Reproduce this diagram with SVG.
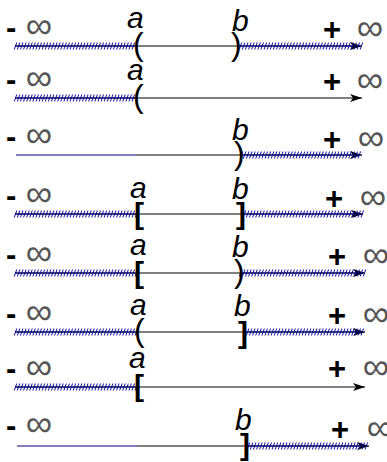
<svg xmlns="http://www.w3.org/2000/svg" width="387" height="462" viewBox="0 0 387 462">
<defs>
<marker id="arr" markerUnits="userSpaceOnUse" markerWidth="14" markerHeight="10" refX="12" refY="4" orient="auto">
<path d="M0,0 L12,4 L0,8 L3,4 z" fill="#000"/>
</marker>
<style>
.bg{fill:#fff}
.ax{stroke:#000;stroke-width:1.1;fill:none}
.bl{stroke:#000080;stroke-width:1.2;fill:none}
.h{stroke:#10109a;stroke-width:7;stroke-dasharray:1 2.1;fill:none}
.hl{stroke:#000080;stroke-width:1;fill:none}
.sg{font-family:"Liberation Sans",Arial,sans-serif;font-weight:bold;font-size:31px;fill:#000}
.inf{font-family:"DejaVu Sans",sans-serif;font-weight:200;font-size:37px;fill:#555}
.lab{font-family:"Liberation Sans",Arial,sans-serif;font-style:italic;font-size:30px;fill:#000}
.br{font-family:"Liberation Sans",Arial,sans-serif;font-size:32px;fill:#000}
.bb{font-family:"Liberation Sans",Arial,sans-serif;font-weight:bold;font-size:30px;fill:#000}
</style>
</defs>
<rect class="bg" x="0" y="0" width="387" height="462"/>
<g id="connectors">
<line class="ax" x1="15" y1="46" x2="362" y2="46" marker-end="url(#arr)"/>
<line class="ax" x1="15" y1="98" x2="362" y2="98" marker-end="url(#arr)"/>
<line class="bl" x1="16" y1="155" x2="136" y2="155"/>
<line class="ax" x1="136" y1="155" x2="362" y2="155" marker-end="url(#arr)"/>
<line class="ax" x1="15" y1="214" x2="363" y2="214" marker-end="url(#arr)"/>
<line class="ax" x1="15" y1="273" x2="365" y2="273" marker-end="url(#arr)"/>
<line class="ax" x1="15" y1="332" x2="365" y2="332" marker-end="url(#arr)"/>
<line class="ax" x1="15" y1="387" x2="365" y2="387" marker-end="url(#arr)"/>
<line class="bl" x1="17" y1="446" x2="138" y2="446"/>
<line class="ax" x1="138" y1="446" x2="369" y2="446" marker-end="url(#arr)"/>
</g>
<g id="hatches">
<g transform="translate(0,46) skewX(-20)"><line class="h" x1="15" y1="0" x2="135" y2="0"/><line class="h" x1="240" y1="0" x2="362" y2="0"/></g>
<line class="hl" x1="15" y1="46" x2="135" y2="46"/><line class="hl" x1="240" y1="46" x2="360" y2="46"/>
<g transform="translate(0,98) skewX(-20)"><line class="h" x1="15" y1="0" x2="135" y2="0"/></g>
<line class="hl" x1="15" y1="98" x2="135" y2="98"/>
<g transform="translate(0,155) skewX(-20)"><line class="h" x1="241" y1="0" x2="362" y2="0"/></g>
<line class="hl" x1="241" y1="155" x2="360" y2="155"/>
<g transform="translate(0,214) skewX(-20)"><line class="h" x1="15" y1="0" x2="137" y2="0"/><line class="h" x1="244" y1="0" x2="363" y2="0"/></g>
<line class="hl" x1="15" y1="214" x2="137" y2="214"/><line class="hl" x1="244" y1="214" x2="361" y2="214"/>
<g transform="translate(0,273) skewX(-20)"><line class="h" x1="15" y1="0" x2="137" y2="0"/><line class="h" x1="240" y1="0" x2="365" y2="0"/></g>
<line class="hl" x1="15" y1="273" x2="137" y2="273"/><line class="hl" x1="240" y1="273" x2="363" y2="273"/>
<g transform="translate(0,332) skewX(-20)"><line class="h" x1="15" y1="0" x2="137" y2="0"/><line class="h" x1="244" y1="0" x2="365" y2="0"/></g>
<line class="hl" x1="15" y1="332" x2="137" y2="332"/><line class="hl" x1="244" y1="332" x2="363" y2="332"/>
<g transform="translate(0,387) skewX(-20)"><line class="h" x1="15" y1="0" x2="137" y2="0"/></g>
<line class="hl" x1="15" y1="387" x2="137" y2="387"/>
<g transform="translate(0,446) skewX(-20)"><line class="h" x1="248" y1="0" x2="369" y2="0"/></g>
<line class="hl" x1="248" y1="446" x2="367" y2="446"/>
</g>
<g id="row1">
<text class="sg" x="6" y="38">-<tspan class="inf" x="14"> ∞</tspan></text>
<text class="lab" x="127" y="28">a</text>
<text class="lab" x="232" y="31">b</text>
<text class="br" x="133" y="55">(</text>
<text class="br" x="231" y="55">)</text>
<text class="sg" x="323" y="40">+<tspan class="inf" x="345"> ∞</tspan></text>
</g>
<g id="row2">
<text class="sg" x="6" y="90">-<tspan class="inf" x="14"> ∞</tspan></text>
<text class="lab" x="127" y="80">a</text>
<text class="br" x="133" y="107">(</text>
<text class="sg" x="323" y="92">+<tspan class="inf" x="345"> ∞</tspan></text>
</g>
<g id="row3">
<text class="sg" x="6" y="147">-<tspan class="inf" x="14"> ∞</tspan></text>
<text class="lab" x="232" y="140">b</text>
<text class="br" x="234" y="164">)</text>
<text class="sg" x="323" y="150">+<tspan class="inf" x="346"> ∞</tspan></text>
</g>
<g id="row4">
<text class="sg" x="6" y="206">-<tspan class="inf" x="14"> ∞</tspan></text>
<text class="lab" x="130" y="198">a</text>
<text class="lab" x="232" y="199">b</text>
<text class="bb" x="134" y="224">[</text>
<text class="bb" x="236" y="224">]</text>
<text class="sg" x="325" y="209">+<tspan class="inf" x="348"> ∞</tspan></text>
</g>
<g id="row5">
<text class="sg" x="6" y="265">-<tspan class="inf" x="14"> ∞</tspan></text>
<text class="lab" x="130" y="255">a</text>
<text class="lab" x="232" y="257">b</text>
<text class="bb" x="134" y="283">[</text>
<text class="br" x="234" y="282">)</text>
<text class="sg" x="328" y="267">+<tspan class="inf" x="351"> ∞</tspan></text>
</g>
<g id="row6">
<text class="sg" x="6" y="324">-<tspan class="inf" x="14"> ∞</tspan></text>
<text class="lab" x="130" y="315">a</text>
<text class="lab" x="234" y="316">b</text>
<text class="br" x="134" y="341">(</text>
<text class="bb" x="238" y="343">]</text>
<text class="sg" x="328" y="326">+<tspan class="inf" x="351"> ∞</tspan></text>
</g>
<g id="row7">
<text class="sg" x="6" y="379">-<tspan class="inf" x="14"> ∞</tspan></text>
<text class="lab" x="129" y="368">a</text>
<text class="bb" x="134" y="396">[</text>
<text class="sg" x="328" y="379">+<tspan class="inf" x="351"> ∞</tspan></text>
</g>
<g id="row8">
<text class="sg" x="6" y="436">-<tspan class="inf" x="14"> ∞</tspan></text>
<text class="lab" x="235" y="430">b</text>
<text class="bb" x="240" y="455">]</text>
<text class="sg" x="331" y="440">+<tspan class="inf" x="355"> ∞</tspan></text>
</g>
</svg>
